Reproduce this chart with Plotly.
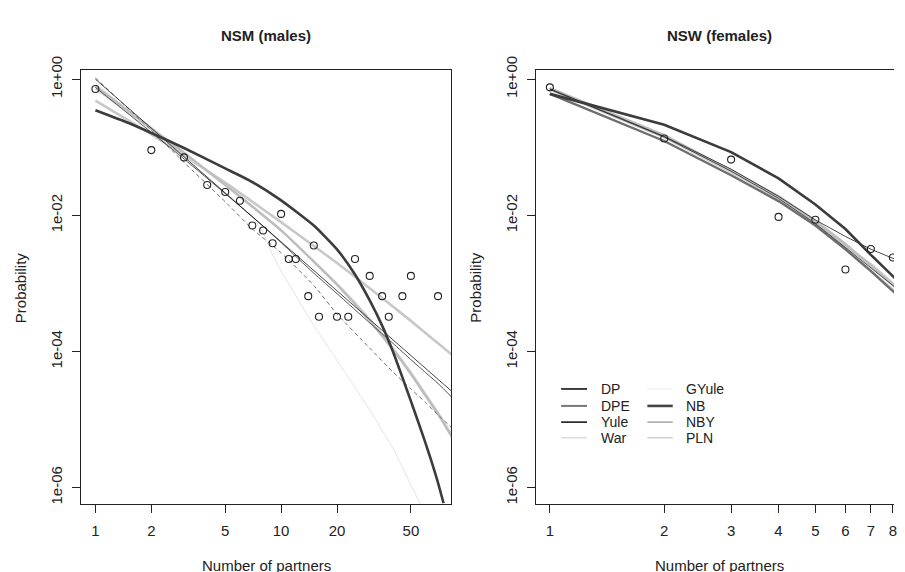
import plotly.graph_objects as go

# ---------------- data ----------------
# observed proportions, NSM (males)
nsm_x = [1, 2, 3, 4, 5, 6, 7, 8, 9, 10, 11, 12, 14, 15, 16, 20, 23, 25, 30, 35, 38, 45, 50, 70]
nsm_p = [0.72, 0.091, 0.071, 0.028, 0.022, 0.0164, 0.0071, 0.0060, 0.0039, 0.0105,
         0.00229, 0.00229, 0.00065, 0.0036, 0.000324, 0.000324, 0.000324, 0.00229,
         0.00129, 0.00065, 0.000324, 0.00065, 0.00129, 0.00065]

# observed proportions, NSW (females)
nsw_x = [1, 2, 3, 4, 5, 6, 7, 8]
nsw_p = [0.76, 0.135, 0.066, 0.0095, 0.0086, 0.0016, 0.0032, 0.0024]

# fitted models, males (log10 probability)
m_grid = [1, 2, 3, 5, 7, 10, 15, 20, 30, 40, 50, 60, 70, 85]
m_dp = [0.0, -0.72, -1.14, -1.67, -2.02, -2.39, -2.81, -3.11, -3.53, -3.83, -4.06, -4.25, -4.41, -4.61]
m_yule = [-0.12, -0.78, -1.17, -1.68, -2.02, -2.40, -2.85, -3.15, -3.58, -3.88, -4.12, -4.31, -4.47, -4.70]
m_dpe = [0.02, -0.75, -1.22, -1.80, -2.20, -2.55, -3.03, -3.45, -3.95, -4.30, -4.55, -4.75, -4.93, -5.15]
m_war = [-0.315, -0.81, -1.12, -1.52, -1.80, -2.10, -2.45, -2.70, -3.07, -3.34, -3.55, -3.73, -3.88, -4.07]
m_nby = [-0.10, -0.72, -1.08, -1.55, -1.87, -2.22, -2.68, -3.02, -3.55, -3.97, -4.33, -4.65, -4.92, -5.30]
m_pln = [-0.14, -0.74, -1.10, -1.56, -1.88, -2.22, -2.67, -3.00, -3.52, -3.94, -4.30, -4.62, -4.89, -5.26]
m_gyule_x = [1, 2, 3, 5, 7, 8, 9, 10, 15, 20, 30, 40, 50, 60]
m_gyule = [-0.05, -0.74, -1.15, -1.68, -2.02, -2.25, -2.58, -2.82, -3.62, -4.13, -4.86, -5.42, -5.97, -6.40]
m_nb_x = [1, 1.5, 2, 3, 5, 7, 10, 15, 20, 25, 30, 35, 40, 45, 50, 55, 60, 65, 70, 75]
m_nb = [-0.455, -0.64, -0.79, -1.01, -1.31, -1.51, -1.78, -2.15, -2.50, -2.87, -3.25, -3.62,
        -4.00, -4.38, -4.73, -5.05, -5.35, -5.64, -5.93, -6.23]

# fitted models, females (log10 probability)
f_grid = [1, 2, 3, 4, 5, 6, 7, 8, 9]
f_nb = [-0.215, -0.668, -1.07, -1.456, -1.84, -2.20, -2.58, -2.90, -3.17]
f_dpe = [-0.215, -0.907, -1.41, -1.79, -2.15, -2.50, -2.82, -3.11, -3.37]
f_war = [-0.14, -0.83, -1.36, -1.74, -2.10, -2.45, -2.72, -3.00, -3.22]
f_yule = [-0.15, -0.85, -1.35, -1.75, -2.12, -2.47, -2.76, -3.03, -3.27]
f_nby = [-0.13, -0.82, -1.34, -1.72, -2.08, -2.42, -2.74, -3.02, -3.28]
f_pln = [-0.16, -0.86, -1.37, -1.76, -2.13, -2.48, -2.80, -3.08, -3.33]
f_gyule = [-0.14, -0.84, -1.35, -1.74, -2.10, -2.44, -2.75, -3.04, -3.30]
f_dp = [-0.14, -0.84, -1.32, -1.72, -2.067, -2.31, -2.497, -2.626, -2.75]

legend_names = ["DP", "DPE", "Yule", "War", "GYule", "NB", "NBY", "PLN"]

x_ticks_m = [1, 2, 5, 10, 20, 50]
x_ticks_f = [1, 2, 3, 4, 5, 6, 7, 8]
y_ticks = [1, 1e-2, 1e-4, 1e-6]
y_ticktext = ["1e+00", "1e-02", "1e-04", "1e-06"]

# ---------------- styles ----------------
STY = {
    "DP": dict(color="#1a1a1a", width=0.8),
    "DPE": dict(color="#6e6e6e", width=1.0),
    "Yule": dict(color="#2a2a2a", width=0.8),
    "War": dict(color="#c8c8c8", width=2.6),
    "GYule": dict(color="#e4e4e4", width=1.0),
    "NB": dict(color="#3c3c3c", width=2.6),
    "NBY": dict(color="#bdbdbd", width=2.4),
    "PLN": dict(color="#d2d2d2", width=1.6),
}
LEG = {
    "DP": ("#111111", 1.6), "DPE": ("#777777", 2.0), "Yule": ("#1a1a1a", 1.6),
    "War": ("#dddddd", 1.6), "GYule": ("#f0f0f0", 1.4), "NB": ("#444444", 2.6),
    "NBY": ("#aaaaaa", 1.6), "PLN": ("#d0d0d0", 1.6),
}

# the page body has an 8px margin: the figure starts at (8, 8) of the window
OX, OY = 8, 8
W, H = 889, 564
FONT = "Liberation Sans, Arial, sans-serif"


def PX(x):
    return (x - OX) / W


def PY(y):
    return 1 - (y - OY) / H


fig = go.Figure()


def add_line(xs, ylog, name, xa, ya, dash="solid", shape="linear"):
    s = STY[name]
    fig.add_trace(go.Scatter(
        x=xs, y=[10 ** v for v in ylog], mode="lines", name=name,
        xaxis=xa, yaxis=ya, showlegend=False, hoverinfo="skip",
        line=dict(color=s["color"], width=s["width"], dash=dash, shape=shape,
                  smoothing=0.5)))


# males
add_line(m_gyule_x, m_gyule, "GYule", "x", "y")
add_line(m_grid, m_war, "War", "x", "y", shape="spline")
add_line(m_grid, m_pln, "PLN", "x", "y", shape="spline")
add_line(m_grid, m_nby, "NBY", "x", "y", shape="spline")
add_line(m_grid, m_dpe, "DPE", "x", "y", dash="4px,3px", shape="spline")
add_line(m_grid, m_yule, "Yule", "x", "y", shape="spline")
add_line(m_grid, m_dp, "DP", "x", "y")
add_line(m_nb_x, m_nb, "NB", "x", "y", shape="spline")
fig.add_trace(go.Scatter(x=nsm_x, y=nsm_p, mode="markers", xaxis="x", yaxis="y",
                         showlegend=False, hoverinfo="skip",
                         marker=dict(symbol="circle-open", size=7, color="#222",
                                     line=dict(width=1.1, color="#222"))))

# females
add_line(f_grid, f_gyule, "GYule", "x2", "y2")
add_line(f_grid, f_war, "War", "x2", "y2")
add_line(f_grid, f_pln, "PLN", "x2", "y2")
add_line(f_grid, f_nby, "NBY", "x2", "y2")
add_line(f_grid, f_dpe, "DPE", "x2", "y2")
fig.data[-1].line.width = 2.4
add_line(f_grid, f_yule, "Yule", "x2", "y2")
add_line(f_grid, f_dp, "DP", "x2", "y2")
add_line(f_grid, f_nb, "NB", "x2", "y2")
fig.add_trace(go.Scatter(x=nsw_x, y=nsw_p, mode="markers", xaxis="x2", yaxis="y2",
                         showlegend=False, hoverinfo="skip",
                         marker=dict(symbol="circle-open", size=7, color="#222",
                                     line=dict(width=1.1, color="#222"))))

# ---------------- axes ----------------
axcommon = dict(type="log", showgrid=False, zeroline=False, showline=True,
                linecolor="#222", linewidth=1.3, ticks="outside", ticklen=8,
                tickcolor="#222", tickwidth=1.1,
                tickfont=dict(family=FONT, size=15, color="#222"))

fig.update_layout(
    width=W, height=H, margin=dict(l=0, r=0, t=0, b=0),
    paper_bgcolor="white", plot_bgcolor="white", showlegend=False,
    xaxis=dict(axcommon, domain=[PX(81), PX(452.7)], range=[-0.079, 1.916], anchor="y",
               tickvals=x_ticks_m, ticktext=[str(v) for v in x_ticks_m],
               mirror=True, ticklabelstandoff=5),
    yaxis=dict(axcommon, domain=[PY(502), PY(57)], range=[-6.237, 0.139], anchor="x",
               tickvals=y_ticks, ticktext=y_ticktext, tickangle=-90,
               mirror=True, ticklabelstandoff=4),
    xaxis2=dict(axcommon, domain=[PX(537.7), 1.0], range=[-0.0367, 0.906],
                anchor="y2", tickvals=x_ticks_f, ticktext=[str(v) for v in x_ticks_f],
                mirror=True, ticklabelstandoff=5, ticklabeloverflow="allow"),
    yaxis2=dict(axcommon, domain=[PY(502), PY(57)], range=[-6.237, 0.139], anchor="x2",
                tickvals=y_ticks, ticktext=y_ticktext, tickangle=-90,
                mirror=False, ticklabelstandoff=4),
)

# ---------------- titles / labels ----------------
ann = []


def px_ann(text, x, y, size=15, bold=False, angle=0, xanchor="center", yanchor="middle", color="#222"):
    ann.append(dict(text=f"<b>{text}</b>" if bold else text, x=PX(x), y=PY(y),
                    xref="paper", yref="paper", showarrow=False, textangle=angle,
                    xanchor=xanchor, yanchor=yanchor,
                    font=dict(family=FONT, size=size, color=color)))


px_ann("NSM (males)", 267, 22, size=15, bold=True)
px_ann("NSW (females)", 722, 22, size=15, bold=True)
px_ann("Number of partners", 267, 565, size=15)
px_ann("Number of partners", 722, 565, size=15)
px_ann("Probability", 20, 280, size=15, angle=-90)
px_ann("Probability", 477, 280, size=15, angle=-90)

# manual two-column legend
shapes = []
rows_y = [384.3, 401.7, 418.3, 434.3]
cols = [(563, 589, 600.5), (649.5, 675, 686.5)]
for i, nm in enumerate(legend_names):
    c = cols[i // 4]
    yy = rows_y[i % 4]
    col, wd = LEG[nm]
    shapes.append(dict(type="line", xref="paper", yref="paper",
                       x0=PX(c[0]), x1=PX(c[1]), y0=PY(yy), y1=PY(yy),
                       line=dict(color=col, width=wd)))
    px_ann(nm, c[2], yy, size=14, xanchor="left")

fig.update_layout(annotations=ann, shapes=shapes)
fig.write_html("out.html")
